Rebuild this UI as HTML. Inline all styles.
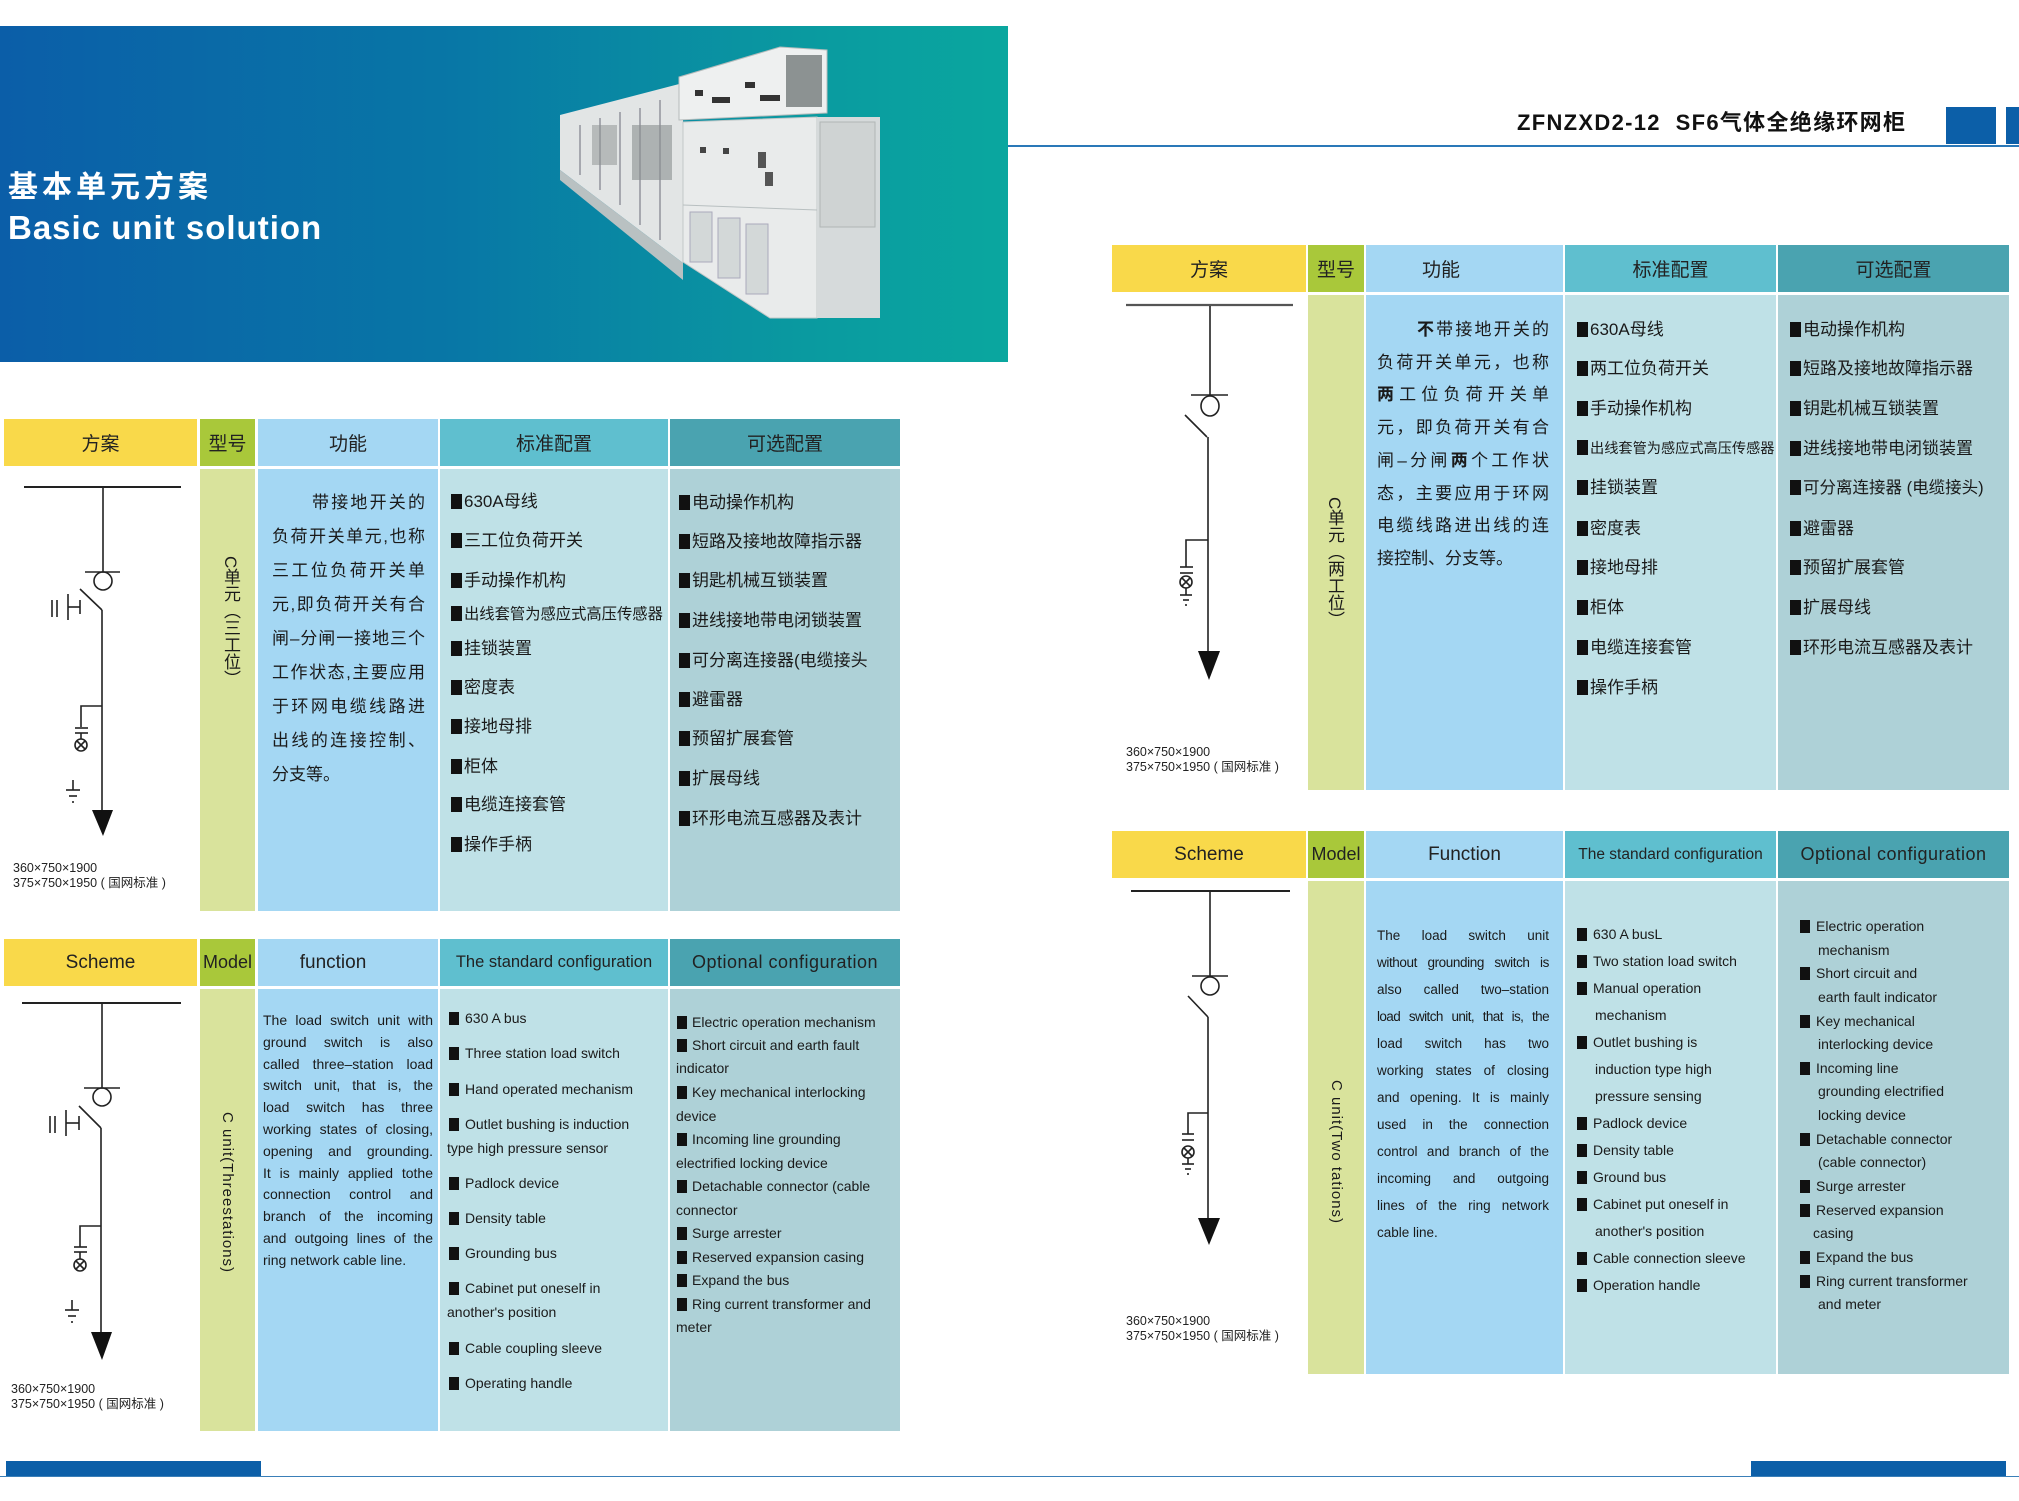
<!DOCTYPE html>
<html><head><meta charset="utf-8">
<style>
*{margin:0;padding:0;box-sizing:border-box}
body{width:2019px;height:1501px;position:relative;background:#fff;font-family:"Liberation Sans","Noto Sans CJK SC",sans-serif;color:#1a1a1a;overflow:hidden}
.a{position:absolute}
.hd{position:absolute;display:flex;align-items:center;justify-content:center;font-size:19px;color:#222;white-space:nowrap}
.it{position:absolute;font-size:17px;line-height:20px;white-space:nowrap}
.ie{position:absolute;font-size:14px;line-height:18px;white-space:nowrap}
.b{display:inline-block;width:11px;height:15px;background:#111;vertical-align:-2px;margin-right:2px}
.be{display:inline-block;width:10px;height:13px;background:#111;vertical-align:-2px;margin-right:6px}
.fn div{text-align:justify;text-align-last:justify;white-space:nowrap}
.fn div.l{text-align-last:left}
.v{position:absolute;writing-mode:vertical-rl;white-space:nowrap}
.dim{position:absolute;font-size:12.5px;line-height:15px;white-space:nowrap;color:#222}
</style></head><body>

<div class="a" style="left:0;top:26px;width:1008px;height:336px;background:linear-gradient(90deg,#0b5ea8 0%,#0877a6 45%,#0a9aa0 80%,#0aa79f 100%)"></div>
<div class="a" style="left:8px;top:170px;font-size:30px;font-weight:bold;color:#fff;letter-spacing:4px;line-height:36px">基本单元方案</div>
<div class="a" style="left:8px;top:208px;font-size:33px;font-weight:bold;color:#fff;letter-spacing:1px;line-height:40px">Basic unit solution</div>

<div class="a" style="left:1008px;top:145px;width:1011px;height:2px;background:#2a78b8"></div>
<div class="a" style="left:1517px;top:110px;font-size:22px;font-weight:bold;line-height:26px;color:#111;white-space:nowrap;letter-spacing:1.3px">ZFNZXD2-12&nbsp; SF6气体全绝缘环网柜</div>
<div class="a" style="left:1946px;top:107px;width:50px;height:37px;background:#0c5fa8"></div>
<div class="a" style="left:2006px;top:107px;width:13px;height:37px;background:#0c5fa8"></div>

<div class="a" style="left:4px;top:419px;width:193px;height:47px;background:#f9d94a"></div>
<div class="a" style="left:200px;top:419px;width:55px;height:47px;background:#a9c83a"></div>
<div class="a" style="left:258px;top:419px;width:180px;height:47px;background:#a4d7f3"></div>
<div class="a" style="left:440px;top:419px;width:228px;height:47px;background:#5fbfcf"></div>
<div class="a" style="left:670px;top:419px;width:230px;height:47px;background:#4aa3b0"></div>
<div class="a" style="left:200px;top:469px;width:55px;height:442px;background:#d9e39c"></div>
<div class="a" style="left:258px;top:469px;width:180px;height:442px;background:#a4d7f3"></div>
<div class="a" style="left:440px;top:469px;width:228px;height:442px;background:#bfe1e7"></div>
<div class="a" style="left:670px;top:469px;width:230px;height:442px;background:#aed1d7"></div>
<div class="a" style="left:4px;top:939px;width:193px;height:47px;background:#f9d94a"></div>
<div class="a" style="left:200px;top:939px;width:55px;height:47px;background:#a9c83a"></div>
<div class="a" style="left:258px;top:939px;width:180px;height:47px;background:#a4d7f3"></div>
<div class="a" style="left:440px;top:939px;width:228px;height:47px;background:#5fbfcf"></div>
<div class="a" style="left:670px;top:939px;width:230px;height:47px;background:#4aa3b0"></div>
<div class="a" style="left:200px;top:989px;width:55px;height:442px;background:#d9e39c"></div>
<div class="a" style="left:258px;top:989px;width:180px;height:442px;background:#a4d7f3"></div>
<div class="a" style="left:440px;top:989px;width:228px;height:442px;background:#bfe1e7"></div>
<div class="a" style="left:670px;top:989px;width:230px;height:442px;background:#aed1d7"></div>
<div class="a" style="left:1112px;top:245px;width:194px;height:47px;background:#f9d94a"></div>
<div class="a" style="left:1308px;top:245px;width:56px;height:47px;background:#a9c83a"></div>
<div class="a" style="left:1366px;top:245px;width:197px;height:47px;background:#a4d7f3"></div>
<div class="a" style="left:1565px;top:245px;width:211px;height:47px;background:#5fbfcf"></div>
<div class="a" style="left:1778px;top:245px;width:231px;height:47px;background:#4aa3b0"></div>
<div class="a" style="left:1308px;top:295px;width:56px;height:495px;background:#d9e39c"></div>
<div class="a" style="left:1366px;top:295px;width:197px;height:495px;background:#a4d7f3"></div>
<div class="a" style="left:1565px;top:295px;width:211px;height:495px;background:#bfe1e7"></div>
<div class="a" style="left:1778px;top:295px;width:231px;height:495px;background:#aed1d7"></div>
<div class="a" style="left:1112px;top:831px;width:194px;height:47px;background:#f9d94a"></div>
<div class="a" style="left:1308px;top:831px;width:56px;height:47px;background:#a9c83a"></div>
<div class="a" style="left:1366px;top:831px;width:197px;height:47px;background:#a4d7f3"></div>
<div class="a" style="left:1565px;top:831px;width:211px;height:47px;background:#5fbfcf"></div>
<div class="a" style="left:1778px;top:831px;width:231px;height:47px;background:#4aa3b0"></div>
<div class="a" style="left:1308px;top:881px;width:56px;height:493px;background:#d9e39c"></div>
<div class="a" style="left:1366px;top:881px;width:197px;height:493px;background:#a4d7f3"></div>
<div class="a" style="left:1565px;top:881px;width:211px;height:493px;background:#bfe1e7"></div>
<div class="a" style="left:1778px;top:881px;width:231px;height:493px;background:#aed1d7"></div>

<div class="a" style="left:0;top:1476px;width:2019px;height:1px;background:#3a7fb8"></div>
<div class="a" style="left:6px;top:1461px;width:255px;height:15px;background:#0c5fa8"></div>
<div class="a" style="left:1751px;top:1461px;width:255px;height:15px;background:#0c5fa8"></div>

<svg class="a" style="left:0;top:0" width="2019" height="1501" viewBox="0 0 2019 1501">
 <g>
  <polygon points="560,115 683,83 683,263 560,170" fill="#e2e5e5"/>
  <polygon points="560,170 683,263 683,280 560,180" fill="#b9c1c2"/>
  <g stroke="#556" stroke-width="1.2" fill="none" opacity="0.7">
   <line x1="580" y1="125" x2="580" y2="175"/><line x1="600" y1="118" x2="600" y2="190"/>
   <line x1="620" y1="112" x2="620" y2="205"/><line x1="640" y1="108" x2="640" y2="225"/>
   <line x1="660" y1="100" x2="660" y2="240"/>
  </g>
  <rect x="632" y="125" width="40" height="55" fill="#8a9090" opacity="0.6"/>
  <rect x="592" y="125" width="25" height="40" fill="#8a9090" opacity="0.5"/>
  <polygon points="679,77 780,47 827,50 827,113 679,120" fill="#eef0f0" stroke="#b5bcbc"/>
  <rect x="786" y="55" width="36" height="52" fill="#8c9292"/>
  <rect x="695" y="90" width="8" height="6" fill="#333"/><rect x="712" y="97" width="18" height="6" fill="#333"/>
  <rect x="745" y="82" width="10" height="6" fill="#333"/><rect x="760" y="95" width="20" height="6" fill="#333"/>
  <polygon points="683,122 817,117 817,318 770,318 683,262" fill="#e9ebeb" stroke="#c2c8c8"/>
  <polygon points="817,117 880,117 880,318 817,318" fill="#d6dadb"/>
  <rect x="820" y="122" width="55" height="105" fill="#cfd3d3" stroke="#b0b6b6"/>
  <line x1="683" y1="205" x2="817" y2="210" stroke="#b8bfc0"/>
  <rect x="690" y="212" width="22" height="50" fill="#d3d8d8" stroke="#aab"/>
  <rect x="718" y="218" width="22" height="60" fill="#d3d8d8" stroke="#aab"/>
  <rect x="746" y="224" width="22" height="70" fill="#d3d8d8" stroke="#aab"/>
  <rect x="758" y="152" width="8" height="16" fill="#555"/><rect x="765" y="172" width="8" height="14" fill="#555"/>
  <rect x="723" y="148" width="6" height="6" fill="#444"/><rect x="700" y="147" width="6" height="6" fill="#444"/>
 </g>
 <g stroke="#222" stroke-width="1.6" fill="none">
  <line x1="24" y1="487" x2="181" y2="487" stroke-width="2"/>
  <line x1="103" y1="488" x2="103" y2="572"/>
  <line x1="85" y1="572" x2="120" y2="572"/>
  <ellipse cx="103" cy="581" rx="9" ry="9"/>
  <line x1="80" y1="589" x2="102" y2="610"/>
  <line x1="102" y1="610" x2="102" y2="812"/>
  <polygon points="92,810 113,810 103,836" fill="#111" stroke="none"/>
  <line x1="52" y1="600" x2="52" y2="617"/><line x1="57" y1="600" x2="57" y2="617"/>
  <line x1="68" y1="594" x2="68" y2="620"/><line x1="68" y1="607" x2="80" y2="607"/><line x1="80" y1="600" x2="80" y2="614"/>
  <polyline points="102,706 81,706 81,727"/>
  <line x1="75" y1="728" x2="88" y2="728"/><line x1="75" y1="733" x2="88" y2="733"/>
  <line x1="81" y1="733" x2="81" y2="739"/>
  <circle cx="81" cy="745" r="6"/><line x1="77" y1="741" x2="85" y2="749"/><line x1="85" y1="741" x2="77" y2="749"/>
  <line x1="73" y1="780" x2="73" y2="790"/><line x1="66" y1="790" x2="80" y2="790"/><line x1="69" y1="796" x2="77" y2="796"/><line x1="72" y1="802" x2="74" y2="802"/>
  <g transform="translate(0,516)">
  <line x1="22" y1="487" x2="181" y2="487" stroke-width="2"/>
  <line x1="102" y1="488" x2="102" y2="572"/>
  <line x1="84" y1="572" x2="120" y2="572"/>
  <ellipse cx="102" cy="581" rx="9" ry="9"/>
  <line x1="79" y1="590" x2="101" y2="612"/>
  <line x1="101" y1="612" x2="101" y2="818"/>
  <polygon points="91,816 112,816 102,844" fill="#111" stroke="none"/>
  <line x1="50" y1="600" x2="50" y2="617"/><line x1="55" y1="600" x2="55" y2="617"/>
  <line x1="66" y1="594" x2="66" y2="620"/><line x1="66" y1="607" x2="79" y2="607"/><line x1="79" y1="600" x2="79" y2="614"/>
  <polyline points="101,710 80,710 80,731"/>
  <line x1="74" y1="731" x2="87" y2="731"/><line x1="74" y1="736" x2="87" y2="736"/>
  <line x1="80" y1="736" x2="80" y2="743"/>
  <circle cx="80" cy="749" r="6"/><line x1="76" y1="745" x2="84" y2="753"/><line x1="84" y1="745" x2="76" y2="753"/>
  <line x1="72" y1="784" x2="72" y2="794"/><line x1="65" y1="794" x2="79" y2="794"/><line x1="68" y1="800" x2="76" y2="800"/><line x1="71" y1="806" x2="73" y2="806"/>
  </g>
  <line x1="1126" y1="305" x2="1293" y2="305" stroke-width="2.2" stroke="#555"/>
  <line x1="1210" y1="306" x2="1210" y2="395"/>
  <line x1="1191" y1="395" x2="1228" y2="395"/>
  <ellipse cx="1210" cy="406" rx="9" ry="10"/>
  <line x1="1185" y1="415" x2="1207" y2="437"/>
  <line x1="1208" y1="437" x2="1208" y2="653"/>
  <polygon points="1198,651 1220,651 1209,680" fill="#111" stroke="none"/>
  <polyline points="1208,540 1186,540 1186,567"/>
  <line x1="1180" y1="567" x2="1193" y2="567"/><line x1="1180" y1="573" x2="1193" y2="573"/>
  <circle cx="1186" cy="582" r="6"/><line x1="1182" y1="578" x2="1190" y2="586"/><line x1="1190" y1="578" x2="1182" y2="586"/>
  <line x1="1186" y1="588" x2="1186" y2="595"/><line x1="1180" y1="595" x2="1192" y2="595"/><line x1="1183" y1="600" x2="1189" y2="600"/><line x1="1185" y1="605" x2="1187" y2="605"/>
  <line x1="1131" y1="891" x2="1290" y2="891" stroke-width="2"/>
  <line x1="1210" y1="892" x2="1210" y2="976"/>
  <line x1="1192" y1="976" x2="1228" y2="976"/>
  <ellipse cx="1210" cy="986" rx="9" ry="9"/>
  <line x1="1188" y1="996" x2="1208" y2="1017"/>
  <line x1="1208" y1="1017" x2="1208" y2="1220"/>
  <polygon points="1198,1218 1220,1218 1209,1245" fill="#111" stroke="none"/>
  <polyline points="1208,1113 1188,1113 1188,1134"/>
  <line x1="1182" y1="1134" x2="1194" y2="1134"/><line x1="1182" y1="1140" x2="1194" y2="1140"/>
  <circle cx="1188" cy="1152" r="6"/><line x1="1184" y1="1148" x2="1192" y2="1156"/><line x1="1192" y1="1148" x2="1184" y2="1156"/>
  <line x1="1188" y1="1158" x2="1188" y2="1164"/><line x1="1182" y1="1164" x2="1194" y2="1164"/><line x1="1185" y1="1169" x2="1191" y2="1169"/><line x1="1187" y1="1174" x2="1189" y2="1174"/>
 </g>
</svg>

<div class="hd" style="left:4px;top:419px;width:193px;height:47px">方案</div>
<div class="hd" style="left:200px;top:419px;width:55px;height:47px">型号</div>
<div class="hd" style="left:258px;top:419px;width:180px;height:47px">功能</div>
<div class="hd" style="left:440px;top:419px;width:228px;height:47px">标准配置</div>
<div class="hd" style="left:670px;top:419px;width:230px;height:47px">可选配置</div>
<div class="hd" style="left:4px;top:939px;width:193px;height:47px">Scheme</div>
<div class="hd" style="left:200px;top:939px;width:55px;height:47px;font-size:18px">Model</div>
<div class="hd" style="left:258px;top:939px;width:150px;height:47px">function</div>
<div class="hd" style="left:440px;top:939px;width:228px;height:47px;font-size:16.5px">The standard configuration</div>
<div class="hd" style="left:670px;top:939px;width:230px;height:47px;font-size:18px;letter-spacing:0.5px">Optional configuration</div>
<div class="hd" style="left:1112px;top:245px;width:194px;height:47px">方案</div>
<div class="hd" style="left:1308px;top:245px;width:56px;height:47px">型号</div>
<div class="hd" style="left:1366px;top:245px;width:150px;height:47px">功能</div>
<div class="hd" style="left:1565px;top:245px;width:211px;height:47px">标准配置</div>
<div class="hd" style="left:1778px;top:245px;width:231px;height:47px">可选配置</div>
<div class="hd" style="left:1112px;top:831px;width:194px;height:47px">Scheme</div>
<div class="hd" style="left:1308px;top:831px;width:56px;height:47px;font-size:18px">Model</div>
<div class="hd" style="left:1366px;top:831px;width:197px;height:47px">Function</div>
<div class="hd" style="left:1565px;top:831px;width:211px;height:47px;font-size:15.5px">The standard configuration</div>
<div class="hd" style="left:1778px;top:831px;width:231px;height:47px;font-size:18px;letter-spacing:0.5px">Optional configuration</div>

<div class="v" style="left:220px;top:556px;font-size:17px;line-height:20px">C单元（三工位）</div>
<div class="v" style="left:1324px;top:497px;font-size:17px;line-height:20px">C单元（两工位）</div>
<div class="v" style="left:218px;top:1112px;font-size:15px;line-height:18px;letter-spacing:1px">C unit(Threestations)</div>
<div class="v" style="left:1327px;top:1080px;font-size:15px;line-height:18px;letter-spacing:1px">C unit(Two tations)</div>

<div class="dim" style="left:13px;top:861px">360×750×1900<br>375×750×1950 ( 国网标准 )</div>
<div class="dim" style="left:11px;top:1382px">360×750×1900<br>375×750×1950 ( 国网标准 )</div>
<div class="dim" style="left:1126px;top:745px">360×750×1900<br>375×750×1950 ( 国网标准 )</div>
<div class="dim" style="left:1126px;top:1314px">360×750×1900<br>375×750×1950 ( 国网标准 )</div>

<div class="a fn" style="left:272px;top:486px;width:153px;font-size:17px;line-height:34px">
<div style="margin-left:40px">带接地开关的</div><div>负荷开关单元,也称</div><div>三工位负荷开关单</div><div>元,即负荷开关有合</div><div>闸–分闸一接地三个</div><div>工作状态,主要应用</div><div>于环网电缆线路进</div><div>出线的连接控制、</div><div class="l">分支等。</div>
</div>
<div class="a fn" style="left:1377px;top:314px;width:172px;font-size:17px;line-height:32.7px">
<div style="margin-left:40px"><b>不</b>带接地开关的</div><div>负荷开关单元，也称</div><div><b>两</b>工位负荷开关单</div><div>元，即负荷开关有合</div><div>闸–分闸<b>两</b>个工作状</div><div>态，主要应用于环网</div><div>电缆线路进出线的连</div><div class="l">接控制、分支等。</div>
</div>
<div class="a fn" style="left:263px;top:1010px;width:170px;font-size:14px;line-height:21.8px">
<div>The load switch unit with</div><div>ground switch is also</div><div>called three–station load</div><div>switch unit, that is, the</div><div>load switch has three</div><div>working states of closing,</div><div>opening and grounding.</div><div>It is mainly applied tothe</div><div>connection control and</div><div>branch of the incoming</div><div>and outgoing lines of the</div><div class="l">ring network cable line.</div>
</div>
<div class="a fn" style="left:1377px;top:922px;width:172px;font-size:13.5px;line-height:27px">
<div>The load switch unit</div><div style="letter-spacing:-0.4px">without grounding switch is</div><div>also called two–station</div><div style="letter-spacing:-0.6px">load switch unit, that is, the</div><div>load switch has two</div><div>working states of closing</div><div>and opening. It is mainly</div><div>used in the connection</div><div>control and branch of the</div><div>incoming and outgoing</div><div>lines of the ring network</div><div class="l">cable line.</div>
</div>

<div class="it" style="left:451px;top:492px"><span class="b"></span>630A母线</div>
<div class="it" style="left:451px;top:531px"><span class="b"></span>三工位负荷开关</div>
<div class="it" style="left:451px;top:571px"><span class="b"></span>手动操作机构</div>
<div class="it" style="left:451px;top:605px;font-size:15.3px"><span class="b"></span>出线套管为感应式高压传感器</div>
<div class="it" style="left:451px;top:639px"><span class="b"></span>挂锁装置</div>
<div class="it" style="left:451px;top:678px"><span class="b"></span>密度表</div>
<div class="it" style="left:451px;top:717px"><span class="b"></span>接地母排</div>
<div class="it" style="left:451px;top:757px"><span class="b"></span>柜体</div>
<div class="it" style="left:451px;top:795px"><span class="b"></span>电缆连接套管</div>
<div class="it" style="left:451px;top:835px"><span class="b"></span>操作手柄</div>
<div class="it" style="left:679px;top:493px"><span class="b"></span>电动操作机构</div>
<div class="it" style="left:679px;top:532px"><span class="b"></span>短路及接地故障指示器</div>
<div class="it" style="left:679px;top:571px"><span class="b"></span>钥匙机械互锁装置</div>
<div class="it" style="left:679px;top:611px"><span class="b"></span>进线接地带电闭锁装置</div>
<div class="it" style="left:679px;top:651px"><span class="b"></span>可分离连接器(电缆接头</div>
<div class="it" style="left:679px;top:690px"><span class="b"></span>避雷器</div>
<div class="it" style="left:679px;top:729px"><span class="b"></span>预留扩展套管</div>
<div class="it" style="left:679px;top:769px"><span class="b"></span>扩展母线</div>
<div class="it" style="left:679px;top:809px"><span class="b"></span>环形电流互感器及表计</div>

<div class="it" style="left:1577px;top:320px"><span class="b"></span>630A母线</div>
<div class="it" style="left:1577px;top:359px"><span class="b"></span>两工位负荷开关</div>
<div class="it" style="left:1577px;top:399px"><span class="b"></span>手动操作机构</div>
<div class="it" style="left:1577px;top:439px;font-size:14.2px"><span class="b"></span>出线套管为感应式高压传感器</div>
<div class="it" style="left:1577px;top:478px"><span class="b"></span>挂锁装置</div>
<div class="it" style="left:1577px;top:519px"><span class="b"></span>密度表</div>
<div class="it" style="left:1577px;top:558px"><span class="b"></span>接地母排</div>
<div class="it" style="left:1577px;top:598px"><span class="b"></span>柜体</div>
<div class="it" style="left:1577px;top:638px"><span class="b"></span>电缆连接套管</div>
<div class="it" style="left:1577px;top:678px"><span class="b"></span>操作手柄</div>
<div class="it" style="left:1790px;top:320px"><span class="b"></span>电动操作机构</div>
<div class="it" style="left:1790px;top:359px"><span class="b"></span>短路及接地故障指示器</div>
<div class="it" style="left:1790px;top:399px"><span class="b"></span>钥匙机械互锁装置</div>
<div class="it" style="left:1790px;top:439px"><span class="b"></span>进线接地带电闭锁装置</div>
<div class="it" style="left:1790px;top:478px;font-size:16.5px"><span class="b"></span>可分离连接器 (电缆接头)</div>
<div class="it" style="left:1790px;top:519px"><span class="b"></span>避雷器</div>
<div class="it" style="left:1790px;top:558px"><span class="b"></span>预留扩展套管</div>
<div class="it" style="left:1790px;top:598px"><span class="b"></span>扩展母线</div>
<div class="it" style="left:1790px;top:638px"><span class="b"></span>环形电流互感器及表计</div>

<div class="ie" style="left:449px;top:1009px"><span class="be"></span>630 A bus</div>
<div class="ie" style="left:449px;top:1044px"><span class="be"></span>Three station load switch</div>
<div class="ie" style="left:449px;top:1080px"><span class="be"></span>Hand operated mechanism</div>
<div class="ie" style="left:449px;top:1115px"><span class="be"></span>Outlet bushing is induction</div>
<div class="ie" style="left:447px;top:1139px">type high pressure sensor</div>
<div class="ie" style="left:449px;top:1174px"><span class="be"></span>Padlock device</div>
<div class="ie" style="left:449px;top:1209px"><span class="be"></span>Density table</div>
<div class="ie" style="left:449px;top:1244px"><span class="be"></span>Grounding bus</div>
<div class="ie" style="left:449px;top:1279px"><span class="be"></span>Cabinet put oneself in</div>
<div class="ie" style="left:447px;top:1303px">another's position</div>
<div class="ie" style="left:449px;top:1339px"><span class="be"></span>Cable coupling sleeve</div>
<div class="ie" style="left:449px;top:1374px"><span class="be"></span>Operating handle</div>
<div class="ie" style="left:677px;top:1013px"><span class="be" style="margin-right:5px"></span>Electric operation mechanism</div>
<div class="ie" style="left:677px;top:1036px"><span class="be" style="margin-right:5px"></span>Short circuit and earth fault</div>
<div class="ie" style="left:676px;top:1059px">indicator</div>
<div class="ie" style="left:677px;top:1083px"><span class="be" style="margin-right:5px"></span>Key mechanical interlocking</div>
<div class="ie" style="left:676px;top:1107px">device</div>
<div class="ie" style="left:677px;top:1130px"><span class="be" style="margin-right:5px"></span>Incoming line grounding</div>
<div class="ie" style="left:676px;top:1154px">electrified locking device</div>
<div class="ie" style="left:677px;top:1177px"><span class="be" style="margin-right:5px"></span>Detachable connector (cable</div>
<div class="ie" style="left:676px;top:1201px">connector</div>
<div class="ie" style="left:677px;top:1224px"><span class="be" style="margin-right:5px"></span>Surge arrester</div>
<div class="ie" style="left:677px;top:1248px"><span class="be" style="margin-right:5px"></span>Reserved expansion casing</div>
<div class="ie" style="left:677px;top:1271px"><span class="be" style="margin-right:5px"></span>Expand the bus</div>
<div class="ie" style="left:677px;top:1295px"><span class="be" style="margin-right:5px"></span>Ring current transformer and</div>
<div class="ie" style="left:676px;top:1318px">meter</div>

<div class="ie" style="left:1577px;top:925px"><span class="be"></span>630 A busL</div>
<div class="ie" style="left:1577px;top:952px"><span class="be"></span>Two station load switch</div>
<div class="ie" style="left:1577px;top:979px"><span class="be"></span>Manual operation</div>
<div class="ie" style="left:1595px;top:1006px">mechanism</div>
<div class="ie" style="left:1577px;top:1033px"><span class="be"></span>Outlet bushing is</div>
<div class="ie" style="left:1595px;top:1060px">induction type high</div>
<div class="ie" style="left:1595px;top:1087px">pressure sensing</div>
<div class="ie" style="left:1577px;top:1114px"><span class="be"></span>Padlock device</div>
<div class="ie" style="left:1577px;top:1141px"><span class="be"></span>Density table</div>
<div class="ie" style="left:1577px;top:1168px"><span class="be"></span>Ground bus</div>
<div class="ie" style="left:1577px;top:1195px"><span class="be"></span>Cabinet put oneself in</div>
<div class="ie" style="left:1595px;top:1222px">another's position</div>
<div class="ie" style="left:1577px;top:1249px"><span class="be"></span>Cable connection sleeve</div>
<div class="ie" style="left:1577px;top:1276px"><span class="be"></span>Operation handle</div>
<div class="ie" style="left:1800px;top:917px"><span class="be"></span>Electric operation</div>
<div class="ie" style="left:1818px;top:941px">mechanism</div>
<div class="ie" style="left:1800px;top:964px"><span class="be"></span>Short circuit and</div>
<div class="ie" style="left:1818px;top:988px">earth fault indicator</div>
<div class="ie" style="left:1800px;top:1012px"><span class="be"></span>Key mechanical</div>
<div class="ie" style="left:1818px;top:1035px">interlocking device</div>
<div class="ie" style="left:1800px;top:1059px"><span class="be"></span>Incoming line</div>
<div class="ie" style="left:1818px;top:1082px">grounding electrified</div>
<div class="ie" style="left:1818px;top:1106px">locking device</div>
<div class="ie" style="left:1800px;top:1130px"><span class="be"></span>Detachable connector</div>
<div class="ie" style="left:1818px;top:1153px">(cable connector)</div>
<div class="ie" style="left:1800px;top:1177px"><span class="be"></span>Surge arrester</div>
<div class="ie" style="left:1800px;top:1201px"><span class="be"></span>Reserved expansion</div>
<div class="ie" style="left:1813px;top:1224px">casing</div>
<div class="ie" style="left:1800px;top:1248px"><span class="be"></span>Expand the bus</div>
<div class="ie" style="left:1800px;top:1272px"><span class="be"></span>Ring current transformer</div>
<div class="ie" style="left:1818px;top:1295px">and meter</div>

</body></html>
